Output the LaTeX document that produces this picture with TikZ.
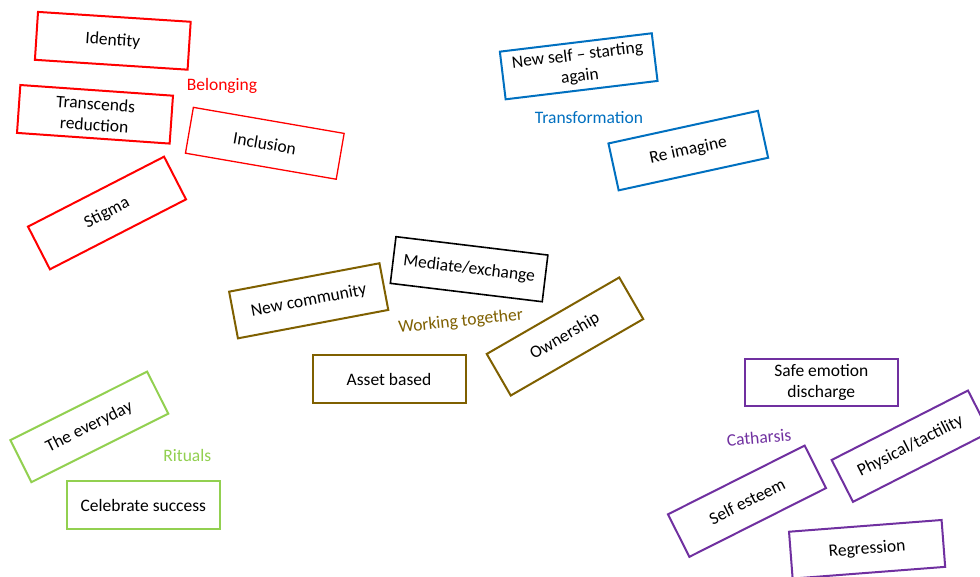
\documentclass[tikz,border=0pt]{standalone}
\usepackage{fontspec}
\setmainfont{Carlito}
\definecolor{belong}{HTML}{FF0000}
\definecolor{transf}{HTML}{0070C0}
\definecolor{worktg}{HTML}{7F6000}
\definecolor{ritual}{HTML}{92D050}
\definecolor{cathar}{HTML}{7030A0}
\tikzset{
  card/.style={draw, fill=white, line width=2pt, minimum width=153pt, minimum height=48pt,
    inner sep=0pt, align=center, text=black, font=\fontsize{17.5}{21}\selectfont},
  theme/.style={inner sep=0pt, font=\fontsize{17.5}{21}\selectfont},
}
\begin{document}
\begin{tikzpicture}[x=1pt,y=-1pt]
\useasboundingbox[fill=white] (0,0) rectangle (980,577);

% Belonging
\node[card, draw=belong, rotate=-3.7] (identity) at (112.8,40.8) {Identity};
\node[card, draw=belong, rotate=-4] (transcends) at (95,114.3) {Transcends\\reduction};
\node[card, draw=belong, line width=1.3pt, rotate=-9.8, minimum height=46.5pt] (inclusion) at (264.8,143.3) {Inclusion};
\node[card, draw=belong, rotate=27.2] (stigma) at (107,213) {Stigma};
\node[theme, text=belong] (belonging) at (222,86) {Belonging};

% Transformation
\node[card, draw=transf, rotate=6.9] (newself) at (578.7,66.3) {New self -- starting\\again};
\node[card, draw=transf, rotate=12.3] (reimagine) at (688.3,150.6) {Re imagine};
\node[theme, text=transf] (transformation) at (589,118) {Transformation};

% Working together
\node[card, draw=worktg, rotate=10.7, minimum height=47.5pt] (newcomm) at (308.7,300.8) {New community};
\node[card, draw=black, line width=1.6pt, rotate=-6.9, minimum height=47pt] (mediate) at (469.1,269.2) {Mediate/exchange};
\node[card, draw=worktg] (asset) at (389,379.2) {Asset based};
\node[card, draw=worktg, rotate=30] (ownership) at (565,336.5) {Ownership};
\node[theme, text=worktg, rotate=6] (working) at (460.7,321.7) {Working together};

% Rituals
\node[card, draw=ritual, rotate=26.6, minimum height=47pt] (everyday) at (89.3,426.9) {The everyday};
\node[card, draw=ritual] (celebrate) at (143.3,505.2) {Celebrate success};
\node[theme, text=ritual] (rituals) at (187.3,455.7) {Rituals};

% Catharsis
\node[card, draw=cathar, minimum height=46.7pt] (safe) at (821.3,382.7) {Safe emotion\\discharge};
\node[card, draw=cathar, rotate=27, minimum height=47pt] (physical) at (910.5,446.2) {Physical/tactility};
\node[card, draw=cathar, rotate=26.7, minimum height=47.6pt] (selfesteem) at (747,501.2) {Self esteem};
\node[card, draw=cathar, rotate=4.4, minimum height=47pt] (regression) at (867.1,549.3) {Regression};
\node[theme, text=cathar, rotate=5] (catharsis) at (759,437.3) {Catharsis};
\end{tikzpicture}
\end{document}
